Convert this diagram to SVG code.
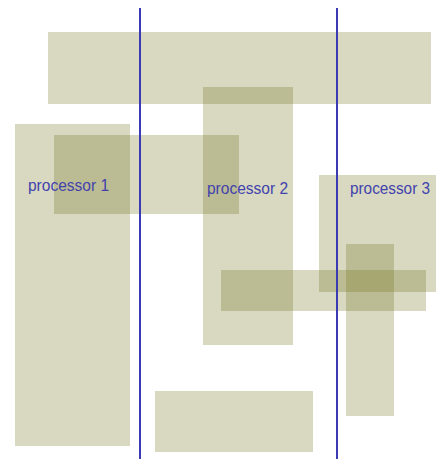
<svg xmlns="http://www.w3.org/2000/svg" width="436" height="459" viewBox="0 0 436 459">
  <style>
    .blk { fill: #67670a; fill-opacity: 0.25; }
    .div { stroke: #3a3ab2; stroke-width: 2; fill: none; }
    .lbl { font-family: "Liberation Sans", Arial, sans-serif; font-size: 16px; fill: #4242ac; }
  </style>
  <rect width="436" height="459" fill="#ffffff"/>
  <g id="blocks">
    <g id="block-top"><rect class="blk" x="48" y="32" width="383" height="72"/></g>
    <g id="block-left"><rect class="blk" x="15" y="124" width="115" height="322"/></g>
    <g id="block-p1"><rect class="blk" x="54" y="135" width="185" height="79"/></g>
    <g id="block-p2"><rect class="blk" x="203" y="87" width="90" height="258"/></g>
    <g id="block-p3"><rect class="blk" x="319" y="175" width="117" height="117"/></g>
    <g id="block-horiz"><rect class="blk" x="221" y="270" width="205" height="41"/></g>
    <g id="block-vert"><rect class="blk" x="346" y="244" width="48" height="172"/></g>
    <g id="block-bottom"><rect class="blk" x="155" y="391" width="158" height="61"/></g>
  </g>
  <g id="connectors">
    <line class="div" x1="140" y1="8" x2="140" y2="459"/>
    <line class="div" x1="337" y1="8" x2="337" y2="459"/>
  </g>
  <g id="labels">
    <g id="label-p1"><text class="lbl" x="28" y="191" textLength="81" lengthAdjust="spacingAndGlyphs">processor 1</text></g>
    <g id="label-p2"><text class="lbl" x="207" y="194" textLength="81" lengthAdjust="spacingAndGlyphs">processor 2</text></g>
    <g id="label-p3"><text class="lbl" x="350" y="194" textLength="80" lengthAdjust="spacingAndGlyphs">processor 3</text></g>
  </g>
</svg>
